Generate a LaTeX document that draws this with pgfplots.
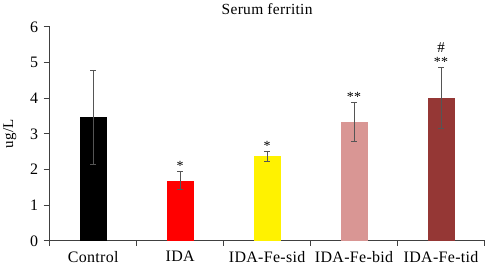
\documentclass[border=0pt]{standalone}
\usepackage{fontspec}
\setmainfont[LetterSpace=2]{Liberation Serif}
\usepackage{pgfplots}
\pgfplotsset{compat=1.18}

\definecolor{barpink}{HTML}{D99694}
\definecolor{bardark}{HTML}{953735}
\definecolor{axisgray}{HTML}{404040}
\definecolor{errgray}{HTML}{555555}

\begin{document}
\begin{tikzpicture}[font=\fontsize{16}{19}\selectfont]
\begin{axis}[
  scale only axis,
  width=436pt, height=214.5pt,
  xmin=-0.5, xmax=4.5,
  ymin=0, ymax=6,
  ytick={0,1,...,6},
  xtick={0,1,2,3,4},
  xticklabels={Control, IDA, IDA-Fe-sid, IDA-Fe-bid, IDA-Fe-tid},
  minor xtick={-0.5,0.5,1.5,2.5,3.5,4.5},
  axis x line*=bottom, axis y line*=left,
  axis line style={axisgray, line width=0.9pt},
  tick align=outside,
  major tick length=6pt, minor tick length=5pt,
  every tick/.style={axisgray, line width=0.9pt},
  x tick style={draw=none},
  minor x tick style={draw=axisgray, line width=0.9pt},
  xticklabel style={yshift=-1pt},
  yticklabel style={xshift=-2pt},
  /pgf/number format/assume math mode=true,
  tick label style={font=\fontsize{16}{19}\selectfont},
  ylabel={ug/L},
  ylabel style={font=\fontsize{15}{18}\selectfont, yshift=7pt},
  title={Serum ferritin},
  title style={font=\fontsize{15.5}{18}\selectfont, yshift=3pt},
  ybar, bar width=0.31, bar shift=0pt,
  error bars/y dir=both, error bars/y explicit,
  error bars/error bar style={errgray, line width=0.8pt},
  error bars/error mark options={rotate=90, mark size=2.8pt, errgray, line width=0.8pt},
  clip=false,
]
% group means with standard deviations
\addplot[fill=black, draw=none] coordinates {(0,3.46) +- (0,1.33)};
\addplot[fill=red, draw=none] coordinates {(1,1.69) +- (0,0.26)};
\addplot[fill=yellow, draw=none] coordinates {(2,2.37) +- (0,0.14)};
\addplot[fill=barpink, draw=none] coordinates {(3,3.33) +- (0,0.54)};
\addplot[fill=bardark, draw=none] coordinates {(4,4.01) +- (0,0.85)};

% significance marks above the error bars
\addplot[draw=none, mark=none, forget plot, ybar=0pt, bar width=0, fill=none,
  nodes near coords, point meta=explicit symbolic,
  every node near coord/.style={anchor=south, inner sep=1pt, yshift=-2pt,
    font=\fontsize{14}{17}\selectfont}]
  coordinates {(1,2.00) [*] (2,2.56) [*] (3,3.92) [**] (4,4.92) [**]};
\addplot[draw=none, mark=none, forget plot, ybar=0pt, bar width=0, fill=none,
  nodes near coords, point meta=explicit symbolic,
  every node near coord/.style={anchor=south, inner sep=1pt,
    font=\fontsize{15}{17}\selectfont}]
  coordinates {(4,5.26) [\#]};
\end{axis}
\end{tikzpicture}
\end{document}
